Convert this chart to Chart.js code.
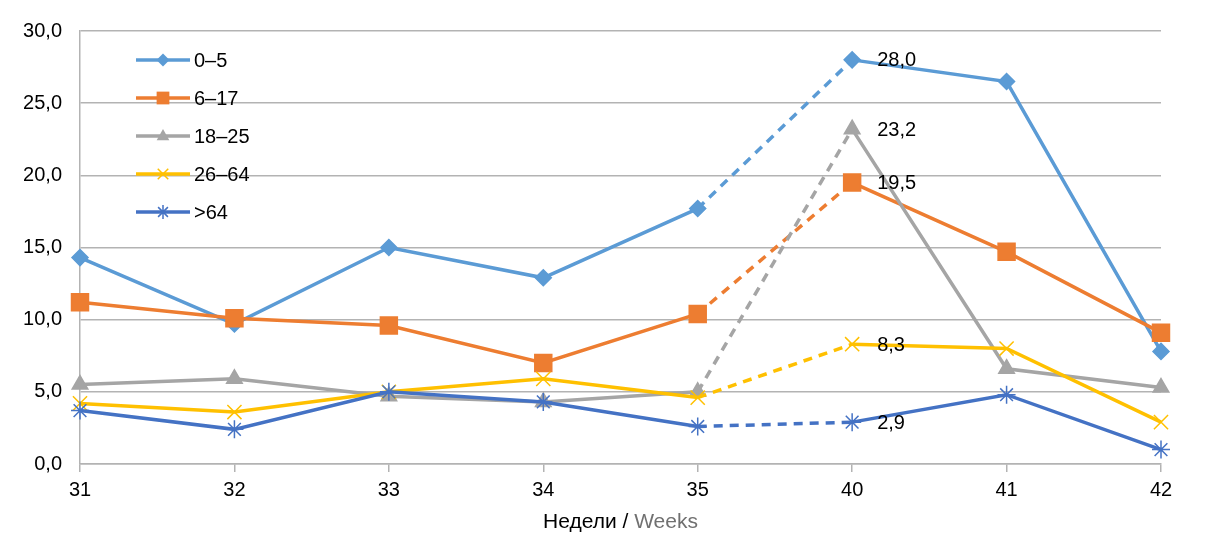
<!DOCTYPE html>
<html>
<head>
<meta charset="utf-8">
<script src="https://cdn.jsdelivr.net/npm/chart.js@4/dist/chart.umd.min.js"></script>
<style>
  body { margin: 0; background: #fff; }
</style>
</head>
<body>
<canvas id="graph" width="1207" height="544"></canvas>
<script>
const weeks = ["31", "32", "33", "34", "35", "40", "41", "42"]
const seriesNames = ["0–5", "6–17", "18–25", "26–64", ">64"]
const ages0to5 = [14.3, 9.7, 15.0, 12.9, 17.7, 28.0, 26.5, 7.8]
const ages6to17 = [11.2, 10.1, 9.6, 7.0, 10.4, 19.5, 14.7, 9.1]
const ages18to25 = [5.5, 5.9, 4.7, 4.3, 5.0, 23.2, 6.6, 5.3]
const ages26to64 = [4.2, 3.6, 5.0, 5.9, 4.6, 8.3, 8.0, 2.9]
const agesOver64 = [3.7, 2.4, 5.0, 4.3, 2.6, 2.9, 4.8, 1.0]
const yTicks = [0, 5, 10, 15, 20, 25, 30]
const labelledWeek = 5

const seriesValues = [ages0to5, ages6to17, ages18to25, ages26to64, agesOver64]
const colors = ["#5B9BD5", "#ED7D31", "#A5A5A5", "#FFC000", "#4472C4"]
const markers = ["rectRot", "rect", "triangle", "crossRot", "star"]
const markerSizes = [8, 12, 9, 10, 9]
const legendSizes = [6.5, 7.5, 7, 7, 7]

const fontFamily = "'Liberation Sans', Arial, sans-serif"
const gridColor = "#B3B3B3"

function fmt(v) {
    return v.toFixed(1).replace(".", ",")
}

// draw a marker for the custom legend
function drawMarker(ctx, style, x, y, r, color) {
    ctx.save()
    ctx.fillStyle = color
    ctx.strokeStyle = color
    ctx.lineWidth = 1.5
    ctx.beginPath()
    if (style === "rectRot") {
        ctx.moveTo(x, y - r)
        ctx.lineTo(x + r, y)
        ctx.lineTo(x, y + r)
        ctx.lineTo(x - r, y)
        ctx.closePath()
        ctx.fill()
    } else if (style === "rect") {
        ctx.rect(x - r * 0.85, y - r * 0.85, r * 1.7, r * 1.7)
        ctx.fill()
    } else if (style === "triangle") {
        ctx.moveTo(x, y - r)
        ctx.lineTo(x + r * 0.9, y + r * 0.6)
        ctx.lineTo(x - r * 0.9, y + r * 0.6)
        ctx.closePath()
        ctx.fill()
    } else if (style === "crossRot") {
        let d = r * 0.75
        ctx.moveTo(x - d, y - d); ctx.lineTo(x + d, y + d)
        ctx.moveTo(x + d, y - d); ctx.lineTo(x - d, y + d)
        ctx.stroke()
    } else {
        let d = r * 0.7
        ctx.moveTo(x - d, y - d); ctx.lineTo(x + d, y + d)
        ctx.moveTo(x + d, y - d); ctx.lineTo(x - d, y + d)
        ctx.moveTo(x, y - r); ctx.lineTo(x, y + r)
        ctx.stroke()
    }
    ctx.restore()
}

const legendAndLabels = {
    id: "legendAndLabels",
    afterDatasetsDraw(chart) {
        const ctx = chart.ctx
        ctx.save()
        ctx.font = "20px " + fontFamily
        ctx.textBaseline = "middle"
        ctx.textAlign = "left"

        // legend
        for (let i = 0; i < seriesNames.length; i++) {
            let y = 60 + i * 38
            ctx.strokeStyle = colors[i]
            ctx.lineWidth = 3.5
            ctx.beginPath()
            ctx.moveTo(136, y)
            ctx.lineTo(190, y)
            ctx.stroke()
            drawMarker(ctx, markers[i], 163, y, legendSizes[i], colors[i])
            ctx.fillStyle = "#000"
            ctx.fillText(seriesNames[i], 194, y + 1)
        }

        // values at week 40
        ctx.fillStyle = "#000"
        for (let i = 0; i < seriesValues.length; i++) {
            let el = chart.getDatasetMeta(i).data[labelledWeek]
            ctx.fillText(fmt(seriesValues[i][labelledWeek]), el.x + 25, el.y + 1)
        }

        // axis title in two colours
        ctx.font = "21px " + fontFamily
        let part1 = "Недели / "
        let part2 = "Weeks"
        let w1 = ctx.measureText(part1).width
        let w2 = ctx.measureText(part2).width
        let cx = (chart.chartArea.left + chart.chartArea.right) / 2
        let x0 = cx - (w1 + w2) / 2
        ctx.fillStyle = "#000"
        ctx.fillText(part1, x0, 522)
        ctx.fillStyle = "#707070"
        ctx.fillText(part2, x0 + w1, 522)
        ctx.restore()
    },
}

const chartID = document.getElementById("graph").getContext("2d")
let graphic = new Chart(chartID, {
    type: "line",
    data: {
        labels: weeks,
        datasets: seriesValues.map((values, i) => ({
            label: seriesNames[i],
            data: values,
            borderColor: colors[i],
            backgroundColor: colors[i],
            borderWidth: 3.5,
            pointStyle: markers[i],
            pointRadius: markerSizes[i],
            pointBorderWidth: 1.5,
            pointBorderColor: colors[i],
            pointBackgroundColor: colors[i],
            tension: 0,
            order: seriesValues.length - i,
            segment: {
                borderDash: (ctx) => (ctx.p0DataIndex === 4 ? [9, 7] : undefined),
            },
        })),
    },
    options: {
        responsive: false,
        animation: false,
        layout: { padding: { top: 31, right: 46, left: 0, bottom: 0 } },
        plugins: {
            legend: { display: false },
            tooltip: { enabled: false },
        },
        scales: {
            x: {
                offset: false,
                grid: {
                    drawOnChartArea: false,
                    tickLength: 8,
                    color: gridColor,
                    lineWidth: 1.5,
                },
                border: { color: gridColor, width: 1.5 },
                ticks: {
                    color: "#000",
                    font: { size: 20, family: fontFamily },
                    padding: 6,
                    maxRotation: 0,
                },
                afterFit: (scale) => {
                    scale.height = 80
                },
            },
            y: {
                min: 0,
                max: 30,
                afterBuildTicks: (scale) => {
                    scale.ticks = yTicks.map((v) => ({ value: v }))
                },
                grid: {
                    drawTicks: false,
                    color: gridColor,
                    lineWidth: 1.5,
                },
                border: { color: gridColor, width: 1.5 },
                ticks: {
                    color: "#000",
                    font: { size: 20, family: fontFamily },
                    padding: 18,
                    callback: (v) => fmt(v),
                },
                afterFit: (scale) => {
                    scale.width = 80
                },
            },
        },
    },
    plugins: [legendAndLabels],
})
</script>
</body>
</html>
